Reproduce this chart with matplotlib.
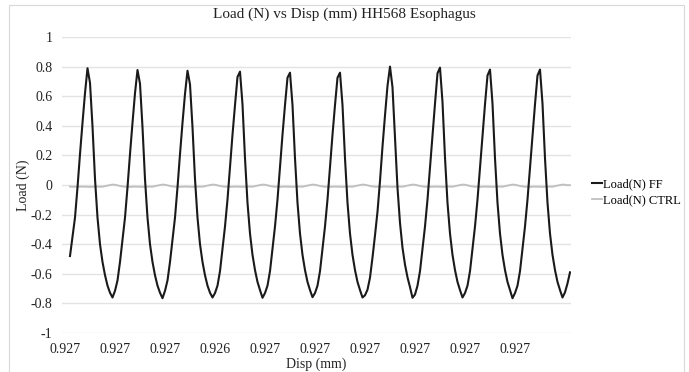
import numpy as np
import matplotlib
matplotlib.use("Agg")
import matplotlib.pyplot as plt
from matplotlib.patches import Rectangle

title = "Load (N) vs Disp (mm) HH568 Esophagus"
x_title = "Disp (mm)"
y_title = "Load (N)"
series_names = ["Load(N) FF", "Load(N) CTRL"]
tick_labels = ["0.927", "0.927", "0.927", "0.926", "0.927",
               "0.927", "0.927", "0.927", "0.927", "0.927"]
y_ticks = [-1, -0.8, -0.6, -0.4, -0.2, 0, 0.2, 0.4, 0.6, 0.8, 1]
y_tick_labels = ["-1", "-0.8", "-0.6", "-0.4", "-0.2", "0",
                 "0.2", "0.4", "0.6", "0.8", "1"]
label_every = 20
n_blank = 2

load_ff = [
    -0.48, -0.35, -0.22, -0.016, 0.209, 0.42, 0.62, 0.789, 0.69, 0.396,
    0.042, -0.22, -0.40, -0.52, -0.609, -0.68, -0.728, -0.76,
    -0.715, -0.645, -0.52, -0.37, -0.22, -0.016, 0.209, 0.42, 0.62, 0.777,
    0.685, 0.39, 0.04, -0.22, -0.40, -0.52, -0.61, -0.68, -0.728, -0.765,
    -0.715, -0.645, -0.52, -0.37, -0.22, -0.016, 0.209, 0.42, 0.615, 0.772,
    0.68, 0.39, 0.04, -0.22, -0.40, -0.52, -0.61, -0.68, -0.728, -0.76,
    -0.73, -0.68, -0.582, -0.43, -0.28, -0.098, 0.118, 0.34, 0.54, 0.73,
    0.766, 0.545, 0.18, -0.12, -0.328, -0.472, -0.575, -0.655, -0.71, -0.762,
    -0.73, -0.68, -0.582, -0.43, -0.28, -0.098, 0.118, 0.34, 0.54, 0.725,
    0.759, 0.54, 0.18, -0.12, -0.328, -0.472, -0.575, -0.655, -0.71, -0.758,
    -0.73, -0.68, -0.582, -0.43, -0.28, -0.098, 0.118, 0.34, 0.54, 0.725,
    0.759, 0.54, 0.18, -0.12, -0.328, -0.472, -0.575, -0.655, -0.71, -0.76,
    -0.745, -0.7075, -0.626, -0.49, -0.34, -0.18, 0.027, 0.26, 0.47, 0.67,
    0.80, 0.66, 0.325, -0.02, -0.256, -0.424, -0.538, -0.624, -0.69, -0.762,
    -0.74, -0.68, -0.582, -0.43, -0.28, -0.098, 0.12, 0.345, 0.55, 0.755,
    0.793, 0.56, 0.185, -0.12, -0.328, -0.472, -0.575, -0.655, -0.71, -0.76,
    -0.73, -0.68, -0.582, -0.43, -0.28, -0.098, 0.118, 0.34, 0.545, 0.74,
    0.78, 0.55, 0.18, -0.12, -0.328, -0.472, -0.575, -0.655, -0.71, -0.765,
    -0.73, -0.68, -0.582, -0.43, -0.28, -0.098, 0.118, 0.34, 0.545, 0.74,
    0.78, 0.55, 0.18, -0.12, -0.328, -0.472, -0.575, -0.655, -0.71, -0.76,
    -0.725, -0.665, -0.59,
]

load_ctrl = [
    -0.011, -0.012, -0.012, -0.013, -0.012, -0.011, -0.012, -0.012, -0.013, -0.012,
    -0.012, -0.011, -0.012, -0.012,
    -0.008, -0.004, 0.000, 0.003, 0.002, -0.002, -0.007, -0.010, -0.012, -0.012,
    -0.013, -0.012, -0.011, -0.012, -0.012, -0.013, -0.012, -0.012, -0.011, -0.012,
    -0.008, -0.004, 0.000, 0.003, 0.002, -0.002, -0.007, -0.010, -0.012, -0.012,
    -0.013, -0.012, -0.011, -0.012, -0.012, -0.013, -0.012, -0.012, -0.011, -0.012,
    -0.008, -0.004, 0.000, 0.003, 0.002, -0.002, -0.007, -0.010, -0.012, -0.012,
    -0.013, -0.012, -0.011, -0.012, -0.012, -0.013, -0.012, -0.012, -0.011, -0.012,
    -0.008, -0.004, 0.000, 0.003, 0.002, -0.002, -0.007, -0.010, -0.012, -0.012,
    -0.013, -0.012, -0.011, -0.012, -0.012, -0.013, -0.012, -0.012, -0.011, -0.012,
    -0.008, -0.004, 0.000, 0.003, 0.002, -0.002, -0.007, -0.010, -0.012, -0.012,
    -0.013, -0.012, -0.011, -0.012, -0.012, -0.013, -0.012, -0.012, -0.011, -0.012,
    -0.008, -0.004, 0.000, 0.003, 0.002, -0.002, -0.007, -0.010, -0.012, -0.012,
    -0.013, -0.012, -0.011, -0.012, -0.012, -0.013, -0.012, -0.012, -0.011, -0.012,
    -0.008, -0.004, 0.000, 0.003, 0.002, -0.002, -0.007, -0.010, -0.012, -0.012,
    -0.013, -0.012, -0.011, -0.012, -0.012, -0.013, -0.012, -0.012, -0.011, -0.012,
    -0.008, -0.004, 0.000, 0.003, 0.002, -0.002, -0.007, -0.010, -0.012, -0.012,
    -0.013, -0.012, -0.011, -0.012, -0.012, -0.013, -0.012, -0.012, -0.011, -0.012,
    -0.008, -0.004, 0.000, 0.003, 0.002, -0.002, -0.007, -0.010, -0.012, -0.012,
    -0.013, -0.012, -0.011, -0.012, -0.012, -0.013, -0.012, -0.012, -0.011, -0.012,
    -0.008, -0.004, 0.000, 0.003, 0.002, -0.001, -0.001,
]

plt.rcParams['font.family'] = ['Liberation Serif', 'DejaVu Serif']

W, H = 689, 372
fig = plt.figure(figsize=(W / 100, H / 100), dpi=100)
fig.patch.set_facecolor('white')
fig.add_artist(Rectangle((9 / W, -0.01), (684 - 9) / W, 1 - 5 / H + 0.01,
                         transform=fig.transFigure, fill=False,
                         edgecolor='#d9d9d9', linewidth=0.8))

ax = fig.add_axes([62 / W, 1 - 333 / H, (571 - 62) / W, (333 - 37) / H])

ff = np.array([np.nan] * n_blank + load_ff)
ctrl = np.array([np.nan] * n_blank + load_ctrl)
x = np.arange(len(ff))

ax.plot(x, ctrl, color='#bfbfbf', linewidth=1.3, label=series_names[1], zorder=3)
ax.plot(x, ff, color='#1a1a1a', linewidth=1.5, label=series_names[0], zorder=4)

ax.set_ylim(-1, 1)
ax.set_yticks(y_ticks)
ax.set_yticklabels(y_tick_labels)
ax.set_xlim(-1.2, 202.4)
ax.set_xticks([label_every * j for j in range(len(tick_labels))])
ax.set_xticklabels(tick_labels)
ax.tick_params(axis='both', length=0, labelsize=10, colors='#222222')
ax.tick_params(axis='x', pad=7)
ax.tick_params(axis='y', pad=7)
ax.grid(axis='y', color='#e3e3e3', linewidth=1.0)
ax.set_axisbelow(True)
for s in ax.spines.values():
    s.set_visible(False)

fig.text(0.5, 1 - 14 / H, title, ha='center', va='center',
         fontsize=11, color='#222222')
ax.set_xlabel(x_title, fontsize=10, color='#222222', labelpad=1)
ax.set_ylabel(y_title, fontsize=10, color='#222222', labelpad=0)

handles, labels = ax.get_legend_handles_labels()
leg = fig.legend(handles[::-1], labels[::-1], loc='center left',
                 bbox_to_anchor=(592 / W, 1 - 192 / H), frameon=False,
                 fontsize=9, handlelength=0.8, handletextpad=0.1,
                 labelspacing=0.3, borderaxespad=0, borderpad=0)

fig.savefig('out.png', dpi=100)
